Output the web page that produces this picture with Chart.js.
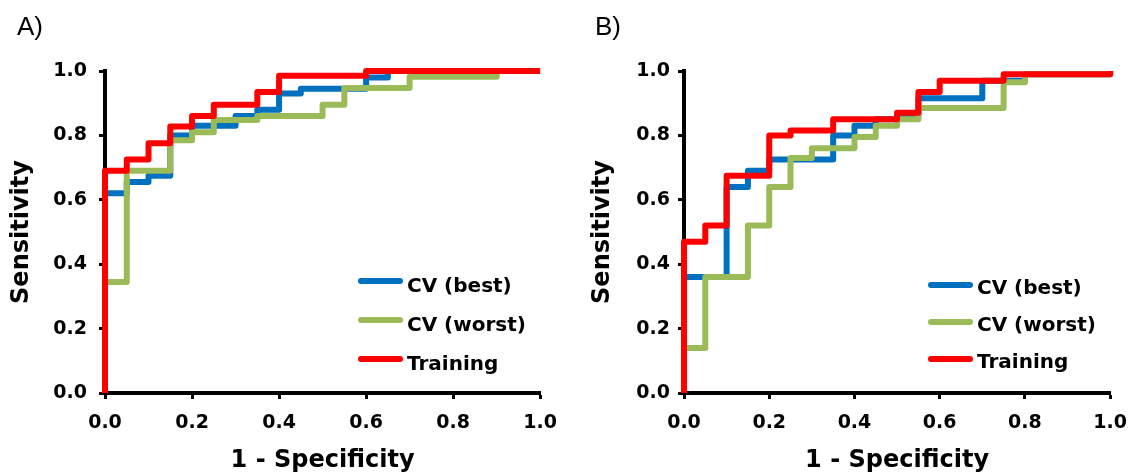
<!DOCTYPE html>
<html>
<head>
<meta charset="utf-8">
<title>ROC curves</title>
<script src="https://cdn.jsdelivr.net/npm/chart.js@4.4.1/dist/chart.umd.min.js"></script>
<style>
  html, body { margin: 0; padding: 0; background: #fff; }
  #wrap { position: relative; width: 1140px; height: 475px; overflow: hidden; }
  canvas { position: absolute; top: 0; }
  #chartA { left: 0; }
  #chartB { left: 570px; }
  .panel { position: absolute; top: 13px; font: 26px "Liberation Sans", Arial, sans-serif; line-height: 26px; color: #000; }
</style>
</head>
<body>
<div id="wrap">
  <canvas id="chartA" width="570" height="475"></canvas>
  <canvas id="chartB" width="570" height="475"></canvas>
  <div class="panel" style="left:17px">A)</div>
  <div class="panel" style="left:595px">B)</div>
</div>
<script>
// tick labels (both axes, both panels)
const tickLabels = ['0.0', '0.2', '0.4', '0.6', '0.8', '1.0'];
const seriesNames = ['CV (best)', 'CV (worst)', 'Training'];

// panel A: step points (1 - specificity, sensitivity)
const aBestX  = [0, 0, 0.05, 0.10, 0.15, 0.20, 0.30, 0.35, 0.40, 0.45, 0.60, 0.65];
const aBestY  = [0, 0.62, 0.655, 0.675, 0.80, 0.83, 0.86, 0.88, 0.93, 0.945, 0.98, 1.0];
const aWorstX = [0, 0, 0.05, 0.15, 0.20, 0.25, 0.35, 0.50, 0.55, 0.70, 0.90];
const aWorstY = [0, 0.345, 0.69, 0.785, 0.81, 0.848, 0.86, 0.895, 0.947, 0.982, 1.0];
const aTrainX = [0, 0, 0.05, 0.10, 0.15, 0.20, 0.25, 0.35, 0.40, 0.60, 1.0];
const aTrainY = [0, 0.69, 0.725, 0.776, 0.828, 0.86, 0.895, 0.935, 0.985, 1.0, 1.0];

// panel B
const bBestX  = [0, 0, 0.10, 0.15, 0.20, 0.35, 0.40, 0.45, 0.50, 0.55, 0.70, 0.80, 1.0];
const bBestY  = [0, 0.36, 0.64, 0.69, 0.725, 0.80, 0.83, 0.85, 0.86, 0.915, 0.97, 0.99, 1.0];
const bWorstX = [0, 0, 0.05, 0.15, 0.20, 0.25, 0.30, 0.40, 0.45, 0.50, 0.55, 0.75, 0.80, 1.0];
const bWorstY = [0, 0.14, 0.36, 0.52, 0.64, 0.73, 0.76, 0.795, 0.83, 0.85, 0.885, 0.965, 0.99, 1.0];
const bTrainX = [0, 0, 0.05, 0.10, 0.20, 0.25, 0.35, 0.50, 0.55, 0.60, 0.75, 1.0];
const bTrainY = [0, 0.47, 0.52, 0.675, 0.80, 0.815, 0.85, 0.87, 0.935, 0.97, 0.99, 1.0];

const colors = ['#0070C0', '#9BBB59', '#FF0000'];
const FONT = '"DejaVu Sans", Verdana, sans-serif';

function pts(xs, ys) {
  return xs.map((x, i) => ({ x: x, y: ys[i] }));
}

// legend drawn inside the plot area
const insideLegend = {
  id: 'insideLegend',
  afterDatasetsDraw(chart, args, o) {
    const ctx = chart.ctx;
    ctx.save();
    ctx.font = 'bold 20px ' + FONT;
    ctx.textBaseline = 'alphabetic';
    ctx.textAlign = 'left';
    chart.data.datasets.forEach((ds, i) => {
      const y = o.rows[i];
      ctx.strokeStyle = ds.borderColor;
      ctx.lineWidth = 6;
      ctx.lineCap = 'round';
      ctx.beginPath();
      ctx.moveTo(o.left, y);
      ctx.lineTo(o.left + o.len, y);
      ctx.stroke();
      ctx.fillStyle = '#000';
      ctx.fillText(ds.label, o.left + o.len + o.gap, y + o.shift);
    });
    ctx.restore();
  }
};

function makeChart(id, series, lay) {
  const datasets = series.map((s, i) => ({
    label: seriesNames[i],
    data: pts(s[0], s[1]),
    borderColor: colors[i],
    backgroundColor: colors[i],
    borderWidth: 6,
    stepped: 'before',
    pointRadius: 0,
    borderJoinStyle: 'round',
    fill: false,
    clip: false,
    order: 3 - i
  }));

  return new Chart(document.getElementById(id), {
    type: 'line',
    data: { datasets: datasets },
    plugins: [insideLegend],
    options: {
      responsive: false,
      animation: false,
      layout: { padding: { left: 0, top: 71, right: lay.right, bottom: 0 } },
      plugins: {
        legend: { display: false },
        tooltip: { enabled: false },
        insideLegend: lay.legend
      },
      scales: {
        x: {
          type: 'linear', min: 0, max: 1,
          ticks: {
            stepSize: 0.2, padding: 13, maxRotation: 0, color: '#000',
            font: { family: FONT, size: 19, weight: 'bold' },
            callback: (v, i) => tickLabels[i]
          },
          grid: { drawOnChartArea: false, drawTicks: true, tickLength: 6, tickWidth: 3, tickColor: '#000' },
          border: { display: true, color: '#000', width: 4 },
          title: {
            display: true, text: '1 - Specificity', color: '#000',
            font: { family: FONT, size: 24, weight: 'bold' },
            padding: { top: 2, bottom: 0 }
          },
          afterFit: s => { s.height = 82; }
        },
        y: {
          type: 'linear', min: 0, max: 1,
          ticks: {
            stepSize: 0.2, padding: lay.yPad, color: '#000',
            font: { family: FONT, size: 19, weight: 'bold' },
            callback: (v, i) => tickLabels[i]
          },
          grid: { drawOnChartArea: false, drawTicks: true, tickLength: 6, tickWidth: 3, tickColor: '#000' },
          border: { display: true, color: '#000', width: 4 },
          title: {
            display: true, text: 'Sensitivity', color: '#000',
            font: { family: FONT, size: 24, weight: 'bold' },
            padding: { top: lay.yTitle, bottom: 0 }
          },
          afterFit: s => { s.width = lay.axisLeft; }
        }
      }
    }
  });
}

makeChart('chartA', [[aBestX, aBestY], [aWorstX, aWorstY], [aTrainX, aTrainY]], {
  axisLeft: 105, right: 29, yPad: 12, yTitle: 7,
  legend: { left: 361, len: 39, gap: 7, rows: [281, 320, 359], shift: 11 }
});

makeChart('chartB', [[bBestX, bBestY], [bWorstX, bWorstY], [bTrainX, bTrainY]], {
  axisLeft: 114, right: 19, yPad: 8, yTitle: 18,
  legend: { left: 361, len: 39, gap: 7, rows: [285, 322, 359], shift: 9 }
});
</script>
</body>
</html>
